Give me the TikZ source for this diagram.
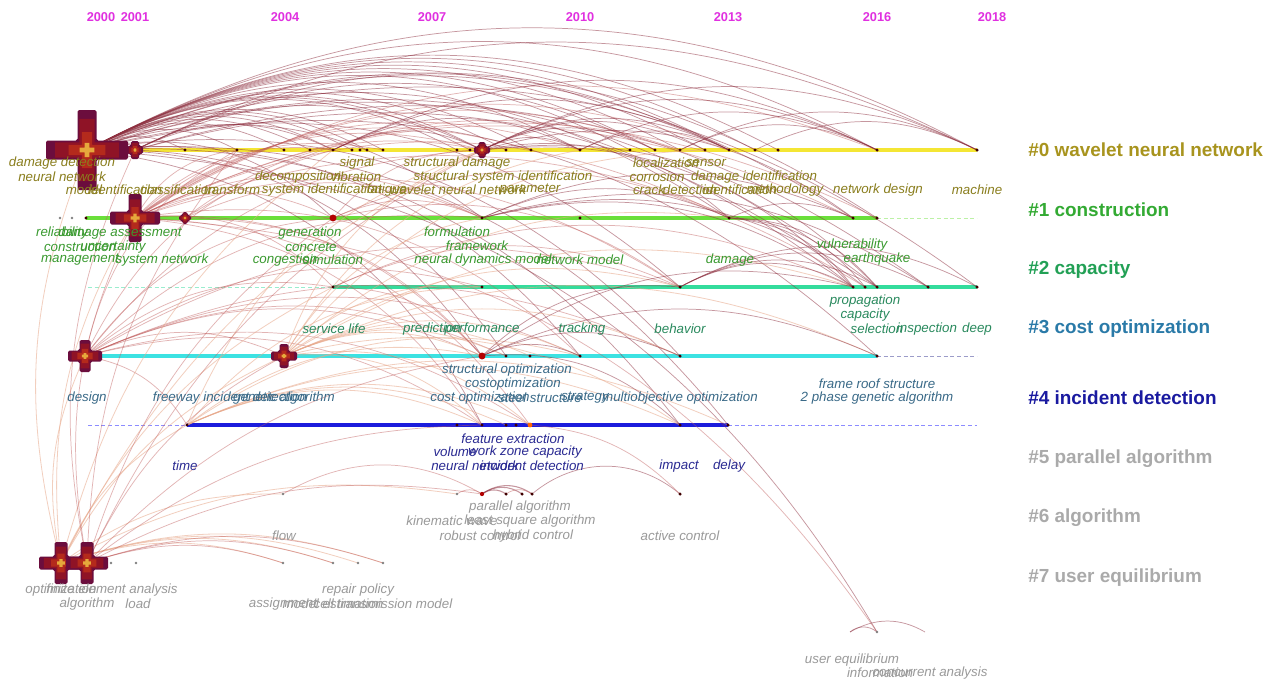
\documentclass[tikz,border=0pt]{standalone}
\usepackage{fontspec}
\setmainfont{Liberation Sans}
\definecolor{yr}{HTML}{E030E0}
\definecolor{c0}{HTML}{8A7E1E}
\definecolor{c1}{HTML}{3A9A30}
\definecolor{c2}{HTML}{2A8A5E}
\definecolor{c3}{HTML}{3A6A88}
\definecolor{c4}{HTML}{2A2A92}
\definecolor{c5}{HTML}{9A9A9A}
\definecolor{k0}{HTML}{A8941E}
\definecolor{k1}{HTML}{33AA33}
\definecolor{k2}{HTML}{22A055}
\definecolor{k3}{HTML}{2A7AA8}
\definecolor{k4}{HTML}{1A1AA0}
\definecolor{k5}{HTML}{AAAAAA}
\definecolor{ln0}{HTML}{F4E634}
\definecolor{ln1}{HTML}{6ADF3A}
\definecolor{ln2}{HTML}{34DC9C}
\definecolor{ln3}{HTML}{3CE2E2}
\definecolor{ln4}{HTML}{1C1CDC}
\definecolor{arcdark}{HTML}{8E3040}
\definecolor{arcmid}{HTML}{C05A5A}
\definecolor{arclight}{HTML}{E8A88A}
\definecolor{crA}{HTML}{6B0D3D}
\definecolor{crB}{HTML}{8F1326}
\definecolor{crC}{HTML}{B42A1C}
\definecolor{crD}{HTML}{E6A83C}
\newcommand\plusshape[3]{(-#3,-#2) -- (#3,-#2) -- (#3,-#3) -- (#1,-#3) -- (#1,#3) -- (#3,#3) -- (#3,#2) -- (-#3,#2) -- (-#3,#3) -- (-#1,#3) -- (-#1,-#3) -- (-#3,-#3) -- cycle}
\newcommand\crossnode[5]{%
  \begin{scope}[shift={(#1,#2)}]
    \fill[crA,rounded corners=1.2pt] \plusshape{#3}{#4}{#5};
    \fill[crB] \plusshape{0.78*#3}{0.78*#4}{0.8*#5};
    \fill[crC] \plusshape{0.45*#3}{0.45*#4}{0.55*#5};
    \fill[crD] \plusshape{0.18*#3}{0.18*#4}{0.25*#5};
  \end{scope}}
\begin{document}
\begin{tikzpicture}[x=0.75pt,y=-0.75pt,
  yearlab/.style={text=yr,font=\fontsize{9.6}{10}\selectfont\bfseries,inner sep=0},
  clab/.style={anchor=west,font=\fontsize{14.2}{15}\selectfont\bfseries,inner sep=0},
  lab/.style={font=\fontsize{10}{11}\selectfont\itshape,inner sep=0},
  arcd/.style={draw=arcdark,draw opacity=.5,line width=.55pt},
  arcm/.style={draw=arcmid,draw opacity=.45,line width=.55pt},
  arcl/.style={draw=arclight,draw opacity=.55,line width=.6pt},
  tline/.style={line width=2.4pt},
  dline/.style={line width=.7pt,dash pattern=on 3pt off 2pt},
  dotn/.style={fill=black!75!red,draw=none}]
\useasboundingbox (0,0) rectangle (1287,682);
\fill[white] (0,0) rectangle (1287,682);

% ---------- node coordinates ----------
\foreach \x in {87,135,185,237,284,310,333,352,360,367,383,457,470,482,506,531,580,630,655,680,705,729,755,778,877,977}
  \coordinate (r0-\x) at (\x,150);
\foreach \x in {60,72,86,135,185,333,482,580,729,853,877}
  \coordinate (r1-\x) at (\x,218);
\foreach \x in {88,333,482,680,853,865,877,928,977}
  \coordinate (r2-\x) at (\x,287);
\foreach \x in {85,284,482,506,530,580,680,877,977}
  \coordinate (r3-\x) at (\x,356);
\foreach \x in {88,187,457,482,506,516,530,680,728,977}
  \coordinate (r4-\x) at (\x,425);
\foreach \x in {283,457,482,506,522,532,680}
  \coordinate (r5-\x) at (\x,494);
\foreach \x in {61,87,111,136,283,333,358,383}
  \coordinate (r6-\x) at (\x,563);
\foreach \x in {850,877,925}
  \coordinate (r7-\x) at (\x,632);

% ---------- timelines ----------
\draw[tline,ln0] (r0-87) -- (r0-977);
\draw[tline,ln1] (r1-86) -- (r1-877);
\draw[dline,ln1!45!white] (r1-877) -- (977,218);
\draw[dline,ln2!50!white] (r2-88) -- (r2-333);
\draw[tline,ln2] (r2-333) -- (r2-977);
\draw[tline,ln3] (r3-85) -- (r3-877);
\draw[dline,blue!30!gray!60] (r3-877) -- (r3-977);
\draw[dline,blue!45!white] (r4-88) -- (r4-187);
\draw[tline,ln4] (r4-187) -- (r4-728);
\draw[dline,blue!45!white] (r4-728) -- (r4-977);

% ---------- citation arcs ----------
\foreach \t in {r0-185,r0-237,r0-284,r0-310,r0-333,r0-352,r0-367,r0-383,r0-457,r0-470,r0-482,r0-506,r0-531,r0-580,r0-630,r0-655,r0-680,r0-705,r0-729,r0-755,r0-778,r0-877,r0-977,r1-333,r1-482,r1-729,r1-853,r1-877,r2-680,r2-853,r2-877,r2-977,r3-482,r3-580,r3-680,r3-877,r4-482,r4-680,r4-728,r7-877}
  \draw[arcd] (r0-87) to[bend left=28] (\t);
\foreach \t in {r0-333,r0-482,r0-655,r0-729,r0-977,r2-865,r2-928,r3-506}
  \draw[arcd] (r0-135) to[bend left=26] (\t);
\foreach \t in {r0-237,r0-333,r0-383,r0-482,r0-531,r0-580,r0-680,r0-729,r0-877,r1-333,r1-482,r1-729,r1-853,r1-877,r2-333,r2-680,r2-865,r3-482,r3-580,r4-482,r4-530,r7-877}
  \draw[arcm] (r1-135) to[bend left=26] (\t);
\foreach \t in {r0-482,r0-680,r1-482,r3-482}
  \draw[arcm] (r1-185) to[bend left=24] (\t);
\foreach \t in {r0-237,r0-333,r0-482,r1-333,r1-482,r2-333,r2-482,r2-680,r3-284,r3-482,r3-506,r3-580,r3-680,r4-187,r4-482,r4-530}
  \draw[arcm] (r3-85) to[bend left=24] (\t);
\foreach \t in {r0-482,r0-580,r0-705,r1-482,r1-729,r2-482,r2-680,r2-853,r3-482,r3-506,r3-530,r3-580,r3-680,r3-877,r4-482,r4-530,r4-680}
  \draw[arcl] (r3-284) to[bend left=24] (\t);
\foreach \t in {r4-482,r4-506,r4-530,r4-680,r4-728,r3-482,r3-580,r2-482,r0-482}
  \draw[arcl] (r4-187) to[bend left=24] (\t);
\foreach \t in {r0-87,r1-135,r3-85,r3-284,r0-482,r0-333,r2-333,r6-283,r6-333,r6-358,r6-383,r5-283,r5-457,r4-187}
  \draw[arcl] (r6-61) to[bend left=18] (\t);
\foreach \t in {r0-135,r0-237,r0-482,r1-135,r1-333,r3-284,r3-482,r6-283,r6-333,r6-383,r5-482,r4-482}
  \draw[arcm] (r6-87) to[bend left=18] (\t);
\foreach \t in {r0-482,r0-580,r0-729,r0-877}
  \draw[arcd] (r0-333) to[bend left=26] (\t);
\foreach \t in {r0-580,r0-655,r0-705,r0-729,r0-877,r0-977,r1-729,r1-853,r2-853,r2-877}
  \draw[arcd] (r0-482) to[bend left=26] (\t);
\foreach \t in {r0-729,r0-877}
  \draw[arcd] (r0-580) to[bend left=26] (\t);
\foreach \t in {r0-877,r0-977}
  \draw[arcd] (r0-680) to[bend left=26] (\t);
\draw[arcd] (r0-755) to[bend left=26] (r0-977);
\foreach \t in {r1-482,r1-729,r0-482,r2-680}
  \draw[arcm] (r1-333) to[bend left=24] (\t);
\foreach \t in {r1-729,r1-853,r2-853,r2-877,r2-928}
  \draw[arcd] (r1-482) to[bend left=24] (\t);
\foreach \t in {r2-680,r2-853,r3-482}
  \draw[arcm] (r2-333) to[bend left=24] (\t);
\foreach \t in {r3-580,r3-680,r3-877,r2-680,r2-853,r4-680}
  \draw[arcd] (r3-482) to[bend left=24] (\t);
\foreach \t in {r2-853,r2-877,r2-928,r2-977}
  \draw[arcd] (r2-680) to[bend left=28] (\t);
\foreach \t in {r1-853,r2-853,r2-865,r2-877}
  \draw[arcd] (r1-729) to[bend left=24] (\t);
\foreach \t in {r5-506,r5-522,r5-532}
  \draw[arcd,line width=.8pt] (r5-482) to[bend left=35] (\t);
\draw[arcm] (r5-457) to[bend left=35] (r5-482);
\draw[arcm] (r5-506) to[bend left=35] (r5-532);
\draw[arcm] (r5-283) to[bend left=30] (r5-482);
\draw[arcd] (r5-532) to[bend left=40] (r5-680);
\draw[arcm] (r4-530) to[bend left=20] (r5-680);
\draw[arcd] (r7-850) to[bend left=30] (r7-925);
\draw[arcd] (r7-850) to[bend left=40] (r7-877);

% ---------- small nodes ----------
\foreach \n in {r0-185,r0-237,r0-284,r0-310,r0-333,r0-352,r0-360,r0-367,r0-383,r0-457,r0-470,r0-506,r0-531,r0-580,r0-630,r0-655,r0-680,r0-705,r0-729,r0-755,r0-778,r0-877,r0-977,r1-86,r1-482,r1-580,r1-729,r1-853,r1-877,r2-333,r2-482,r2-680,r2-853,r2-865,r2-877,r2-928,r2-977,r3-506,r3-530,r3-580,r3-680,r3-877,r4-187,r4-457,r4-482,r4-506,r4-516,r4-680,r4-728,r5-506,r5-522,r5-532,r5-680}
  \fill[dotn] (\n) circle (1.3pt);
\foreach \n in {r1-60,r1-72,r5-283,r5-457,r6-111,r6-136,r6-283,r6-333,r6-358,r6-383,r7-877}
  \fill[gray] (\n) circle (1.1pt);
\fill[orange!80!red] (r4-530) circle (1.8pt);
\fill[red!70!black] (r5-482) circle (1.6pt);
\fill[red!70!black] (r1-333) circle (2.6pt);
\fill[red!70!black] (r3-482) circle (2.6pt);

% ---------- burst crosses ----------
\crossnode{87}{150}{41}{40}{9.5}
\crossnode{135}{150}{8}{9}{4}
\crossnode{135}{218}{25}{24}{6.5}
\crossnode{185}{218}{6}{6}{2.5}
\crossnode{482}{150}{8}{8}{3.5}
\crossnode{85}{356}{17}{16}{5.5}
\crossnode{284}{356}{13}{12}{4.5}
\crossnode{61}{563}{22}{21}{6.5}
\crossnode{87}{563}{21}{21}{6.5}

% ---------- years ----------
\foreach \x/\y [count=\i] in {101/2000,135/2001,285/2004,432/2007,580/2010,728/2013,877/2016,992/2018}
  \node[yearlab] (year\i) at (\x,17) {\y};

% ---------- cluster labels ----------
\node[clab,text=k0] (cl0) at (1028,150) {\#0 wavelet neural network};
\node[clab,text=k1] (cl1) at (1028,210) {\#1 construction};
\node[clab,text=k2] (cl2) at (1028,270) {\#2 capacity};
\node[clab,text=k3] (cl3) at (1028,329) {\#3 cost optimization};
\node[clab,text=k4] (cl4) at (1028,398) {\#4 incident detection};
\node[clab,text=k5] (cl5) at (1028,459) {\#5 parallel algorithm};
\node[clab,text=k5] (cl6) at (1028,518) {\#6 algorithm};
\node[clab,text=k5] (cl7) at (1028,578) {\#7 user equilibrium};

% ---------- term labels ----------
\foreach \x/\y/\t [count=\i] in {62/163/damage detection,62/177/neural network,84/190/model,125/190/identification,178/190/classification,232/190/transform,
  357/163/signal,298/177/decomposition,356/177/vibration,322/190/system identification,387/190/fatigue,
  457/163/structural damage,503/177/structural system identification,458/190/wavelet neural network,530/190/parameter,
  666/163/localization,706/163/sensor,657/177/corrosion,754/177/damage identification,
  649/190/crack,690/190/detection,740/190/identification,785/190/methodology,878/190/network design,977/190/machine}
  \node[lab,text=c0] (a\i) at (\x,\y) {\t};
\foreach \x/\y/\t [count=\i] in {62/233/reliability,120/233/damage assessment,80/247/construction,113/247/uncertainty,80/260/management,162/260/system network,
  310/233/generation,311/247/concrete,285/260/congestion,333/260/simulation,
  457/232/formulation,477/246/framework,483/260/neural dynamics model,580/260/network model,730/260/damage,852/245/vulnerability,877/259/earthquake}
  \node[lab,text=c1] (b\i) at (\x,\y) {\t};
\foreach \x/\y/\t [count=\i] in {865/301/propagation,865/315/capacity,877/329/selection,927/329/inspection,977/329/deep,
  680/329/behavior,582/329/tracking,482/329/performance,432/329/prediction,334/329/service life}
  \node[lab,text=c2] (c\i) at (\x,\y) {\t};
\foreach \x/\y/\t [count=\i] in {87/398/design,230/398/freeway incident detection,284/398/genetic algorithm,
  507/370/structural optimization,513/384/costoptimization,480/398/cost optimization,540/398/steel structure,585/398/strategy,680/398/multiobjective optimization,
  877/384/frame roof structure,877/398/2 phase genetic algorithm}
  \node[lab,text=c3] (d\i) at (\x,\y) {\t};
\foreach \x/\y/\t [count=\i] in {185/466/time,513/439/feature extraction,455/452/volume,525/452/work zone capacity,
  475/466/neural network,532/466/incident detection,679/466/impact,729/466/delay}
  \node[lab,text=c4] (e\i) at (\x,\y) {\t};
\foreach \x/\y/\t [count=\i] in {520/507/parallel algorithm,452/521/kinematic wave,530/521/least square algorithm,
  480/536/robust control,533/536/hybrid control,680/536/active control,284/536/flow,
  61/590/optimization,112/590/finite element analysis,87/604/algorithm,138/604/load,
  358/590/repair policy,283/604/assignment,333/604/model estimation,383/604/cell transmission model,
  852/660/user equilibrium,880/673/information,930/673/concurrent analysis}
  \node[lab,text=c5] (f\i) at (\x,\y) {\t};
\end{tikzpicture}
\end{document}
